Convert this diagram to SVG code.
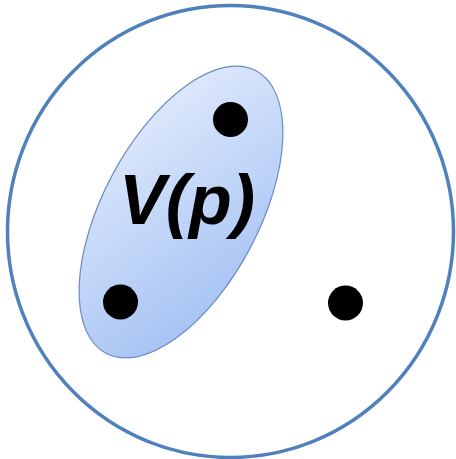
<svg xmlns="http://www.w3.org/2000/svg" width="456" height="459" viewBox="0 0 456 459">
<defs>
<linearGradient id="g" x1="0" y1="0" x2="1" y2="1">
<stop offset="0" stop-color="#e6eefc"/>
<stop offset="1" stop-color="#9dbdf3"/>
</linearGradient>
<style>
.dot{fill:#000}
.lbl{font-family:"Liberation Sans",Arial,sans-serif;font-weight:bold;font-style:italic;font-size:70px;fill:#000}
</style>
</defs>
<rect width="456" height="459" fill="#fff"/>
<g id="universe"><ellipse cx="230.5" cy="231.5" rx="223" ry="226" fill="none" stroke="#5081bd" stroke-width="3.5"/></g>
<g id="vp">
<ellipse cx="181" cy="212" rx="78" ry="160" transform="rotate(28 181 212)" fill="url(#g)" stroke="#6a8cc4" stroke-width="1.2"/>
<text class="lbl" x="119" y="224">V(p)</text>
</g>
<g id="p1"><circle class="dot" cx="230.5" cy="119.5" r="17.5"/></g>
<g id="p2"><circle class="dot" cx="120.5" cy="302" r="17.5"/></g>
<g id="p3"><circle class="dot" cx="345.5" cy="303" r="17.5"/></g>
<g id="connectors"/>
</svg>
